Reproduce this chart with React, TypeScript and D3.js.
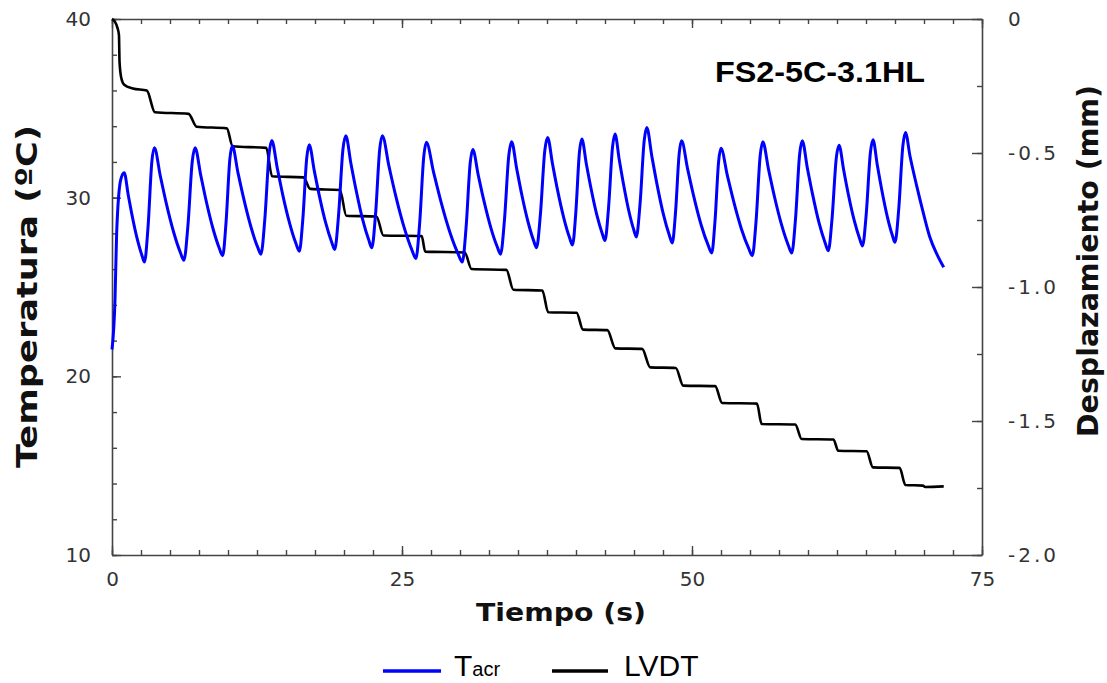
import React, { useEffect, useRef } from 'react';
import * as d3 from 'd3';

// Tacr temperature (ºC) vs time (s)
const tacrPoints: [number, number][] = [
  [0, 21.5], [0.26, 24.3], [0.4, 28.0], [0.75, 31.0], [1.05, 31.4],
  [1.4, 30.15], [1.75, 28.95], [2.19, 27.65], [2.59, 26.75], [2.8, 26.4],
  [3.1, 28.3], [3.44, 32.05], [3.65, 32.8],
  [4.16, 31.23], [4.67, 29.71], [5.31, 28.08], [5.89, 26.94], [6.2, 26.5],
  [6.54, 28.39], [6.92, 32.04], [7.16, 32.8],
  [7.64, 31.29], [8.11, 29.84], [8.71, 28.26], [9.25, 27.17], [9.54, 26.75],
  [9.83, 28.6], [10.16, 32.16], [10.37, 32.9],
  [10.86, 31.39], [11.36, 29.93], [11.98, 28.36], [12.54, 27.26], [12.84, 26.84],
  [13.17, 28.75], [13.54, 32.44], [13.77, 33.2],
  [14.25, 31.65], [14.72, 30.16], [15.32, 28.55], [15.86, 27.43], [16.15, 27.0],
  [16.45, 28.79], [16.79, 32.24], [17.0, 32.96],
  [17.44, 31.5], [17.88, 30.09], [18.43, 28.57], [18.94, 27.51], [19.2, 27.1],
  [19.53, 29.01], [19.91, 32.71], [20.15, 33.47],
  [20.6, 31.9], [21.05, 30.4], [21.61, 28.77], [22.13, 27.64], [22.4, 27.2],
  [22.72, 29.08], [23.08, 32.72], [23.3, 33.47],
  [23.88, 31.75], [24.46, 30.1], [25.19, 28.32], [25.85, 27.08], [26.2, 26.6],
  [26.52, 28.55], [26.88, 32.32], [27.1, 33.1],
  [27.72, 31.43], [28.34, 29.82], [29.12, 28.08], [29.83, 26.87], [30.2, 26.4],
  [30.52, 28.29], [30.88, 31.94], [31.1, 32.7],
  [31.58, 31.24], [32.06, 29.83], [32.66, 28.31], [33.21, 27.25], [33.5, 26.84],
  [33.83, 28.73], [34.21, 32.38], [34.45, 33.13],
  [34.88, 31.65], [35.31, 30.22], [35.85, 28.68], [36.34, 27.61], [36.6, 27.2],
  [36.93, 29.05], [37.31, 32.63], [37.55, 33.37],
  [37.98, 31.87], [38.41, 30.42], [38.95, 28.86], [39.44, 27.77], [39.7, 27.35],
  [39.98, 29.13], [40.3, 32.57], [40.5, 33.28],
  [40.9, 31.86], [41.3, 30.5], [41.8, 29.02], [42.26, 28.0], [42.5, 27.6],
  [42.8, 29.39], [43.15, 32.84], [43.36, 33.56],
  [43.73, 32.12], [44.1, 30.74], [44.56, 29.24], [44.98, 28.2], [45.2, 27.8],
  [45.52, 29.64], [45.88, 33.19], [46.1, 33.93],
  [46.54, 32.31], [46.98, 30.76], [47.53, 29.08], [48.04, 27.91], [48.3, 27.46],
  [48.58, 29.18], [48.9, 32.49], [49.1, 33.18],
  [49.62, 31.61], [50.14, 30.1], [50.79, 28.47], [51.39, 27.34], [51.7, 26.9],
  [51.98, 28.66], [52.3, 32.06], [52.5, 32.76],
  [53.04, 31.26], [53.58, 29.82], [54.26, 28.25], [54.88, 27.17], [55.2, 26.75],
  [55.52, 28.66], [55.88, 32.36], [56.1, 33.13],
  [56.6, 31.57], [57.1, 30.08], [57.73, 28.46], [58.3, 27.34], [58.6, 26.9],
  [58.92, 28.78], [59.28, 32.43], [59.5, 33.18],
  [59.95, 31.64], [60.4, 30.17], [60.96, 28.57], [61.48, 27.46], [61.75, 27.03],
  [62.07, 28.8], [62.44, 32.23], [62.67, 32.94],
  [63.08, 31.53], [63.48, 30.18], [63.99, 28.71], [64.46, 27.69], [64.7, 27.3],
  [65.02, 29.08], [65.38, 32.53], [65.6, 33.24],
  [65.98, 31.8], [66.36, 30.43], [66.84, 28.93], [67.27, 27.9], [67.5, 27.5],
  [67.82, 29.35], [68.18, 32.91], [68.4, 33.65],
  [68.8, 32.3], [69.37, 30.66], [69.94, 29.15], [70.5, 27.8], [71.1, 26.85], [71.7, 26.1],
];

// LVDT displacement (mm) vs time (s)
const lvdtPoints: [number, number][] = [
  [0, 0], [0.25, -0.01], [0.45, -0.03], [0.6, -0.06], [0.65, -0.16], [0.8, -0.22],
  [1.05, -0.245], [1.8, -0.259], [3.0, -0.267],
  [3.7, -0.348], [6.6, -0.354],
  [7.3, -0.402], [9.9, -0.408],
  [10.4, -0.475], [13.3, -0.481],
  [13.8, -0.587], [16.5, -0.591],
  [17.1, -0.634], [19.65, -0.638],
  [20.2, -0.734], [22.8, -0.737],
  [23.4, -0.808], [26.7, -0.81],
  [27.0, -0.868], [30.4, -0.871],
  [31.0, -0.933], [34.0, -0.936],
  [34.6, -1.01], [37.1, -1.013],
  [37.6, -1.094], [40.05, -1.096],
  [40.6, -1.159], [42.7, -1.161],
  [43.4, -1.229], [45.7, -1.231],
  [46.4, -1.3], [48.6, -1.302],
  [49.25, -1.368], [52.0, -1.37],
  [52.6, -1.433], [55.6, -1.435],
  [56.0, -1.511], [58.9, -1.513],
  [59.45, -1.567], [62.2, -1.569],
  [62.6, -1.611], [65.05, -1.613],
  [65.6, -1.673], [67.9, -1.675],
  [68.4, -1.739], [69.9, -1.741], [70.1, -1.746], [71.7, -1.744],
];

const xTicks = [0, 25, 50, 75];
const tempTicks = [10, 20, 30, 40];
const dispTicks = [-2, -1.5, -1, -0.5, 0];
const title = 'FS2-5C-3.1HL';

const App = () => {
  const svgRef = useRef<SVGSVGElement>(null);

  useEffect(() => {
    const svg = d3.select(svgRef.current);
    svg.selectAll('*').remove();

    const left = 112, right = 982, top = 19, bottom = 555;
    const axisColor = '#444';
    const labelFont = 'DejaVu Sans, Verdana, sans-serif';

    const x = d3.scaleLinear().domain([0, 75]).range([left, right]);
    const yT = d3.scaleLinear().domain([10, 40]).range([bottom, top]);
    const yD = d3.scaleLinear().domain([-2, 0]).range([bottom, top]);

    const styleAxis = (g: any) => {
      g.selectAll('path.domain').attr('stroke', axisColor).attr('stroke-width', 1.6);
      g.selectAll('.tick line').attr('stroke', axisColor).attr('stroke-width', 1.4);
      g.selectAll('.tick text')
        .attr('fill', '#333')
        .style('font-family', labelFont)
        .style('font-size', '20px');
    };

    // minor ticks
    const minor = (axis: any, values: number[], tr: string) => {
      svg.append('g')
        .attr('transform', tr)
        .call(axis.tickValues(values).tickSizeInner(-5).tickSizeOuter(0).tickFormat(() => ''))
        .call((g: any) => g.select('.domain').remove())
        .call(styleAxis);
    };
    minor(d3.axisBottom(x), d3.range(0, 75.01, 2.5), `translate(0,${bottom})`);
    minor(d3.axisTop(x), d3.range(0, 75.01, 2.5), `translate(0,${top})`);
    minor(d3.axisLeft(yT), d3.range(10, 40.01, 2), `translate(${left},0)`);
    minor(d3.axisRight(yD), d3.range(-2, 0.01, 0.25), `translate(${right},0)`);

    // major axes
    svg.append('g')
      .attr('transform', `translate(0,${bottom})`)
      .call(d3.axisBottom(x).tickValues(xTicks).tickSizeInner(-9).tickSizeOuter(0).tickPadding(17).tickFormat(d3.format('d')))
      .call(styleAxis);
    svg.append('g')
      .attr('transform', `translate(0,${top})`)
      .call(d3.axisTop(x).tickValues(xTicks).tickSizeInner(-9).tickSizeOuter(0).tickFormat(() => ''))
      .call(styleAxis);
    svg.append('g')
      .attr('transform', `translate(${left},0)`)
      .call(d3.axisLeft(yT).tickValues(tempTicks).tickSizeInner(-9).tickSizeOuter(0).tickPadding(21).tickFormat(d3.format('d')))
      .call(styleAxis);
    svg.append('g')
      .attr('transform', `translate(${right},0)`)
      .call(d3.axisRight(yD).tickValues(dispTicks).tickSizeInner(-10).tickSizeOuter(0).tickPadding(26)
        .tickFormat((d: any) => (d === 0 ? '0' : (+d).toFixed(1))))
      .call(styleAxis)
      .call((g: any) => g.selectAll('.tick text').attr('letter-spacing', 3));

    // series
    const tempLine = d3.line<[number, number]>()
      .x(d => x(d[0]))
      .y(d => yT(d[1]))
      .curve(d3.curveMonotoneX);
    const dispLine = d3.line<[number, number]>()
      .x(d => x(d[0]))
      .y(d => yD(d[1]))
      .curve(d3.curveMonotoneX);

    svg.append('path')
      .datum(lvdtPoints)
      .attr('fill', 'none')
      .attr('stroke', '#000')
      .attr('stroke-width', 2.6)
      .attr('stroke-linejoin', 'round')
      .attr('d', dispLine);

    svg.append('path')
      .datum(tacrPoints)
      .attr('fill', 'none')
      .attr('stroke', '#0000ff')
      .attr('stroke-width', 3)
      .attr('stroke-linejoin', 'round')
      .attr('d', tempLine);

    // axis titles
    svg.append('text')
      .attr('transform', `translate(37,${(125 + 468) / 2}) rotate(-90)`)
      .attr('text-anchor', 'middle')
      .attr('textLength', 343)
      .attr('lengthAdjust', 'spacingAndGlyphs')
      .style('font-family', labelFont)
      .style('font-weight', 'bold')
      .style('font-size', '29px')
      .attr('fill', '#111')
      .text('Temperatura (ºC)');

    svg.append('text')
      .attr('transform', `translate(1098,${(85 + 437) / 2}) rotate(-90)`)
      .attr('text-anchor', 'middle')
      .attr('textLength', 352)
      .attr('lengthAdjust', 'spacingAndGlyphs')
      .style('font-family', labelFont)
      .style('font-weight', 'bold')
      .style('font-size', '29px')
      .attr('fill', '#111')
      .text('Desplazamiento (mm)');

    svg.append('text')
      .attr('x', 561)
      .attr('y', 621)
      .attr('text-anchor', 'middle')
      .attr('textLength', 170)
      .attr('lengthAdjust', 'spacingAndGlyphs')
      .style('font-family', labelFont)
      .style('font-weight', 'bold')
      .style('font-size', '25px')
      .attr('fill', '#111')
      .text('Tiempo (s)');

    // annotation
    svg.append('text')
      .attr('x', 715)
      .attr('y', 82)
      .attr('textLength', 210)
      .attr('lengthAdjust', 'spacingAndGlyphs')
      .style('font-family', 'Liberation Sans, Arial, sans-serif')
      .style('font-weight', 'bold')
      .style('font-size', '30px')
      .attr('fill', '#000')
      .text(title);

    // legend
    const legend = svg.append('g').style('font-family', 'Liberation Sans, Arial, sans-serif');
    legend.append('line')
      .attr('x1', 383).attr('x2', 441).attr('y1', 671).attr('y2', 671)
      .attr('stroke', '#0000ff').attr('stroke-width', 3.5);
    const tl = legend.append('text').attr('x', 454).attr('y', 676).attr('fill', '#000');
    tl.append('tspan').style('font-size', '30px').text('T');
    tl.append('tspan').style('font-size', '20px').text('acr');
    legend.append('line')
      .attr('x1', 552).attr('x2', 608).attr('y1', 671).attr('y2', 671)
      .attr('stroke', '#000').attr('stroke-width', 3.5);
    legend.append('text')
      .attr('x', 624).attr('y', 676)
      .style('font-size', '30px')
      .attr('fill', '#000')
      .text('LVDT');
  }, []);

  return (
    <svg
      ref={svgRef}
      width={1107}
      height={683}
      style={{ position: 'absolute', left: 0, top: 0, background: '#fff' }}
    />
  );
};

export default App;
